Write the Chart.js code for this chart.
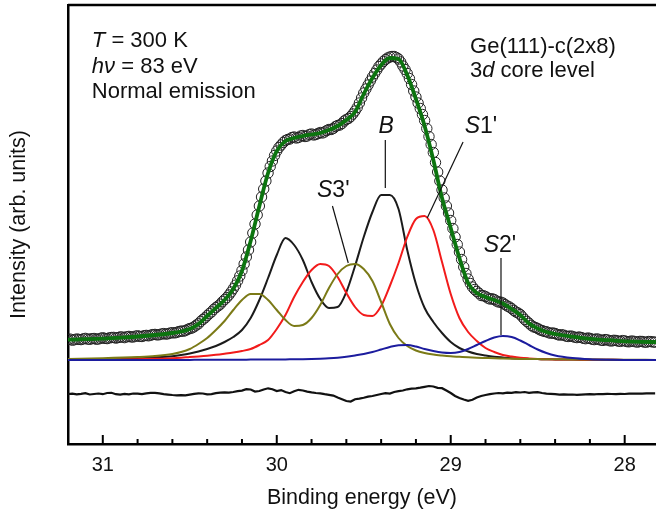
<!DOCTYPE html>
<html>
<head>
<meta charset="utf-8">
<script src="https://cdn.jsdelivr.net/npm/chart.js@4.4.0/dist/chart.umd.min.js"></script>
<style>
  html, body { margin: 0; padding: 0; background: #fff; }
</style>
</head>
<body>
<canvas id="ge3d" width="656" height="514"></canvas>
<script>
// measured spectrum (open circles), binding energy in eV
var dataEnergy = [
  31.2000, 31.1875, 31.1750, 31.1625, 31.1500, 31.1375, 31.1250, 31.1125, 31.1000, 31.0875,
  31.0750, 31.0625, 31.0500, 31.0375, 31.0250, 31.0125, 31.0000, 30.9875, 30.9750, 30.9625,
  30.9500, 30.9375, 30.9250, 30.9125, 30.9000, 30.8875, 30.8750, 30.8625, 30.8500, 30.8375,
  30.8250, 30.8125, 30.8000, 30.7875, 30.7750, 30.7625, 30.7500, 30.7375, 30.7250, 30.7125,
  30.7000, 30.6875, 30.6750, 30.6625, 30.6500, 30.6375, 30.6250, 30.6125, 30.6000, 30.5875,
  30.5750, 30.5625, 30.5500, 30.5375, 30.5250, 30.5125, 30.5000, 30.4875, 30.4750, 30.4625,
  30.4500, 30.4375, 30.4250, 30.4125, 30.4000, 30.3875, 30.3750, 30.3625, 30.3500, 30.3375,
  30.3250, 30.3125, 30.3000, 30.2875, 30.2750, 30.2625, 30.2500, 30.2375, 30.2250, 30.2125,
  30.2000, 30.1875, 30.1750, 30.1625, 30.1500, 30.1375, 30.1250, 30.1125, 30.1000, 30.0875,
  30.0750, 30.0625, 30.0500, 30.0375, 30.0250, 30.0125, 30.0000, 29.9875, 29.9750, 29.9625,
  29.9500, 29.9375, 29.9250, 29.9125, 29.9000, 29.8875, 29.8750, 29.8625, 29.8500, 29.8375,
  29.8250, 29.8125, 29.8000, 29.7875, 29.7750, 29.7625, 29.7500, 29.7375, 29.7250, 29.7125,
  29.7000, 29.6875, 29.6750, 29.6625, 29.6500, 29.6375, 29.6250, 29.6125, 29.6000, 29.5875,
  29.5750, 29.5625, 29.5500, 29.5375, 29.5250, 29.5125, 29.5000, 29.4875, 29.4750, 29.4625,
  29.4500, 29.4375, 29.4250, 29.4125, 29.4000, 29.3875, 29.3750, 29.3625, 29.3500, 29.3375,
  29.3250, 29.3125, 29.3000, 29.2875, 29.2750, 29.2625, 29.2500, 29.2375, 29.2250, 29.2125,
  29.2000, 29.1875, 29.1750, 29.1625, 29.1500, 29.1375, 29.1250, 29.1125, 29.1000, 29.0875,
  29.0750, 29.0625, 29.0500, 29.0375, 29.0250, 29.0125, 29.0000, 28.9875, 28.9750, 28.9625,
  28.9500, 28.9375, 28.9250, 28.9125, 28.9000, 28.8875, 28.8750, 28.8625, 28.8500, 28.8375,
  28.8250, 28.8125, 28.8000, 28.7875, 28.7750, 28.7625, 28.7500, 28.7375, 28.7250, 28.7125,
  28.7000, 28.6875, 28.6750, 28.6625, 28.6500, 28.6375, 28.6250, 28.6125, 28.6000, 28.5875,
  28.5750, 28.5625, 28.5500, 28.5375, 28.5250, 28.5125, 28.5000, 28.4875, 28.4750, 28.4625,
  28.4500, 28.4375, 28.4250, 28.4125, 28.4000, 28.3875, 28.3750, 28.3625, 28.3500, 28.3375,
  28.3250, 28.3125, 28.3000, 28.2875, 28.2750, 28.2625, 28.2500, 28.2375, 28.2250, 28.2125,
  28.2000, 28.1875, 28.1750, 28.1625, 28.1500, 28.1375, 28.1250, 28.1125, 28.1000, 28.0875,
  28.0750, 28.0625, 28.0500, 28.0375, 28.0250, 28.0125, 28.0000, 27.9875, 27.9750, 27.9625,
  27.9500, 27.9375, 27.9250, 27.9125, 27.9000, 27.8875, 27.8750, 27.8625, 27.8500, 27.8375,
  27.8250
];
var dataIntensity = [
  20.5, 20.9, 19.8, 20.3, 21.0, 20.6, 20.4, 21.1, 21.6, 20.9,
  20.7, 21.3, 21.5, 20.8, 21.0, 21.7, 22.2, 21.6, 21.4, 22.1,
  22.5, 22.6, 21.9, 22.4, 23.1, 22.9, 22.4, 23.2, 23.6, 23.1,
  23.0, 23.8, 24.2, 23.6, 23.5, 24.3, 24.6, 24.2, 24.8, 25.4,
  25.6, 25.1, 25.3, 26.0, 26.4, 25.9, 26.2, 27.0, 27.3, 27.1,
  27.6, 28.4, 28.9, 28.8, 29.4, 30.6, 31.4, 32.0, 33.2, 34.9,
  36.2, 38.6, 40.5, 42.1, 44.3, 46.4, 48.1, 50.6, 52.4, 54.0,
  55.8, 58.3, 60.4, 62.4, 65.0, 68.0, 71.3, 74.8, 79.2, 84.0,
  89.5, 96, 103, 110, 118, 127, 136, 145, 154, 163,
  171, 179, 187, 193.5, 199, 204.5, 209, 212.5, 215, 217.5,
  219.5, 220.5, 221, 222.5, 223, 222, 222.5, 224, 224.5, 223.5,
  224, 225.5, 226, 225, 225.5, 226.5, 227.5, 227, 228, 229.5,
  230.5, 230.5, 231.5, 233.5, 234.5, 235, 236.5, 239, 240.5, 241.5,
  243.5, 246, 249, 252.5, 257, 262, 267, 271, 275, 279,
  283, 286.5, 290, 293.5, 296, 298.5, 300.5, 302, 303, 303.5,
  303.5, 302.5, 301, 298, 294, 290.5, 286.5, 281.5, 275.5, 269,
  263, 257, 251.5, 245.5, 239.5, 231.5, 223.5, 215.5, 207.5, 197.5,
  188, 179, 170, 162, 154, 147, 139.5, 131.5, 123, 115.5,
  108, 100.5, 93, 86.5, 81, 76.5, 73, 70.5, 68.5, 66.8,
  64.5, 64.3, 63.5, 62, 61, 61.2, 60.5, 59, 58, 57.8,
  57, 55.4, 54, 53, 51.5, 49.6, 48, 47, 45.5, 43,
  40.5, 38.6, 36.8, 34.7, 33.2, 32.5, 31.5, 30.2, 29.4, 28.6,
  28.3, 27.3, 26.8, 27.0, 26.5, 25.5, 24.9, 25.3, 24.8, 23.9,
  23.5, 24.0, 23.6, 22.8, 22.4, 23.0, 22.5, 21.7, 21.3, 22.0,
  21.6, 20.8, 20.4, 21.1, 20.7, 19.9, 19.6, 20.4, 20.1, 19.3,
  19.0, 19.7, 19.5, 18.9, 18.6, 19.4, 19.1, 18.4, 18.2, 18.9,
  18.8, 18.2, 17.9, 18.6, 18.5, 17.9, 17.8, 18.5, 18.4, 18.0,
  17.9
];

// fit residual, drawn offset below the baseline
var residEnergy = [
  31.200, 31.175, 31.150, 31.125, 31.100, 31.075, 31.050, 31.025, 31.000, 30.975,
  30.950, 30.925, 30.900, 30.875, 30.850, 30.825, 30.800, 30.775, 30.750, 30.725,
  30.700, 30.675, 30.650, 30.625, 30.600, 30.575, 30.550, 30.525, 30.500, 30.475,
  30.450, 30.425, 30.400, 30.375, 30.350, 30.325, 30.300, 30.275, 30.250, 30.225,
  30.200, 30.175, 30.150, 30.125, 30.100, 30.075, 30.050, 30.025, 30.000, 29.975,
  29.950, 29.925, 29.900, 29.875, 29.850, 29.825, 29.800, 29.775, 29.750, 29.725,
  29.700, 29.675, 29.650, 29.625, 29.600, 29.575, 29.550, 29.525, 29.500, 29.475,
  29.450, 29.425, 29.400, 29.375, 29.350, 29.325, 29.300, 29.275, 29.250, 29.225,
  29.200, 29.175, 29.150, 29.125, 29.100, 29.075, 29.050, 29.025, 29.000, 28.975,
  28.950, 28.925, 28.900, 28.875, 28.850, 28.825, 28.800, 28.775, 28.750, 28.725,
  28.700, 28.675, 28.650, 28.625, 28.600, 28.575, 28.550, 28.525, 28.500, 28.475,
  28.450, 28.425, 28.400, 28.375, 28.350, 28.325, 28.300, 28.275, 28.250, 28.225,
  28.200, 28.175, 28.150, 28.125, 28.100, 28.075, 28.050, 28.025, 28.000, 27.975,
  27.950, 27.925, 27.900, 27.875, 27.850, 27.825
];
var residual = [
  -34.0, -33.6, -34.3, -33.8, -33.2, -34.5, -34.0, -33.5, -34.2, -33.0,
  -32.8, -34.2, -34.6, -33.9, -34.3, -33.5, -33.7, -34.2, -33.4, -32.9,
  -32.8, -33.4, -34.2, -34.6, -35.0, -35.3, -35.1, -35.4, -34.6, -33.8,
  -33.3, -33.5, -34.3, -34.1, -33.2, -32.7, -32.4, -32.6, -32.0, -31.2,
  -30.6, -29.2, -29.5, -31.5, -31.0, -29.5, -28.3, -29.2, -31.0, -30.1,
  -32.0, -33.2, -31.3, -29.8, -30.5, -31.6, -32.4, -33.0, -33.4, -34.2,
  -34.8, -35.6, -37.5, -39.2, -41.0, -41.5, -39.2, -38.6, -37.8, -36.6,
  -36.0, -35.0, -34.0, -33.2, -33.6, -32.0, -31.2, -30.5, -29.3, -28.6,
  -28.3, -27.6, -26.8, -26.0, -26.5, -27.8, -28.2, -30.5, -33.0, -36.0,
  -38.0, -39.5, -40.8, -39.8, -37.5, -36.0, -35.0, -34.2, -33.5, -33.0,
  -33.4, -32.6, -32.9, -32.2, -32.5, -32.0, -32.8, -32.4, -32.2, -33.0,
  -33.6, -33.9, -34.2, -34.6, -34.4, -34.7, -34.5, -34.8, -34.6, -34.4,
  -34.2, -34.3, -34.0, -34.1, -33.9, -34.0, -34.1, -33.8, -34.0, -33.7,
  -33.6, -33.5, -33.6, -33.4, -33.3, -33.3
];

// total fit (green)
var fitEnergy = [
  31.2, 31.1, 31.0, 30.9, 30.8, 30.7, 30.6, 30.55, 30.5, 30.45,
  30.4, 30.35, 30.3, 30.25, 30.2, 30.15, 30.1, 30.05, 30.0, 29.95,
  29.9, 29.85, 29.8, 29.75, 29.7, 29.65, 29.6, 29.55, 29.5, 29.45,
  29.4, 29.35, 29.3, 29.25, 29.2, 29.15, 29.1, 29.05, 29.0, 28.95,
  28.9, 28.85, 28.8, 28.75, 28.7, 28.65, 28.6, 28.55, 28.5, 28.45,
  28.4, 28.3, 28.2, 28.1, 28.0, 27.9, 27.82
];
var fitIntensity = [
  20.3, 20.8, 21.4, 22.4, 23.5, 25, 27, 28.5, 31, 36,
  44, 52, 60, 71, 89, 119, 154, 187, 209, 219,
  222, 224, 225.5, 227, 230, 234, 240, 248, 266, 282,
  295, 302, 301, 285, 261, 234, 200, 162, 132, 102,
  77, 67, 63, 60, 56.5, 51, 45, 36.5, 31.5, 28,
  26, 23.3, 21.2, 19.8, 18.7, 18.1, 18
];

// fitted components (spin-orbit doublets)
var compEnergy = [
  31.2, 31.0, 30.8, 30.7, 30.6, 30.55, 30.5, 30.45, 30.4, 30.35,
  30.3, 30.25, 30.2, 30.15, 30.1, 30.05, 30.0, 29.95, 29.9, 29.85,
  29.8, 29.75, 29.7, 29.65, 29.6, 29.55, 29.5, 29.45, 29.4, 29.35,
  29.3, 29.25, 29.2, 29.15, 29.1, 29.05, 29.0, 28.95, 28.9, 28.85,
  28.8, 28.75, 28.7, 28.65, 28.6, 28.55, 28.5, 28.45, 28.4, 28.3,
  28.2, 28.1, 28.0, 27.82
];
var compB = [
  0.4, 0.8, 1.6, 2.5, 3.8, 5, 6.5, 8.5, 11, 14,
  18, 23, 30, 42, 60, 82, 105, 122, 115, 100,
  78, 61, 52, 53, 68, 94, 123, 148, 165, 165,
  151, 110, 76, 52, 38, 27, 18, 12, 8.5, 6,
  4.5, 3.3, 2.5, 1.8, 1.4, 1.1, 0.9, 0.7, 0.6, 0.4,
  0.3, 0.2, 0.1, 0
];
var compS1 = [
  0.2, 0.4, 0.8, 1.2, 1.8, 2.3, 3, 3.6, 4.3, 5.2,
  6.3, 7.5, 9, 11, 15, 20, 31, 45, 63, 78,
  90, 96, 94, 83, 67, 53, 45, 44, 54, 74,
  97, 123, 141, 144, 130, 98, 66, 42, 28, 19,
  12, 8, 5, 3.5, 2.3, 1.6, 1.1, 0.8, 0.6, 0.4,
  0.3, 0.2, 0.1, 0
];
var compS3 = [
  1, 1.8, 3, 4, 6, 8, 11, 16, 22, 30,
  39, 50, 60, 66, 66, 60, 50, 40, 34, 35,
  42, 55, 72, 86, 94, 96, 91, 79, 58, 36,
  22, 14, 9.5, 7, 5.5, 4.5, 3.7, 3.2, 2.7, 2.3,
  2, 1.7, 1.5, 1.3, 1.1, 1, 0.9, 0.8, 0.7, 0.5,
  0.4, 0.3, 0.2, 0.1
];
var compS2 = [
  0, 0, 0, 0, 0.1, 0.1, 0.1, 0.2, 0.2, 0.2,
  0.3, 0.3, 0.3, 0.4, 0.4, 0.5, 0.5, 0.6, 0.7, 0.8,
  1, 1.3, 1.7, 2.3, 3.2, 4.5, 6, 8, 10.5, 13,
  14.8, 15, 13.5, 11, 9, 7.5, 7, 8, 11, 15,
  19, 22.5, 24, 23, 19.5, 15, 10.5, 7, 4.5, 2,
  0.8, 0.3, 0.1, 0
];

var xTickLabels = ['31', '30', '29', '28'];

// text on the plot, positioned in data units (energy, intensity)
var peakLabels = [
  { parts: [['B', true]], at: [29.371, 227], line: [[29.376, 220], [29.376, 172]] },
  { parts: [['S', true], ["1'", false]], at: [28.826, 227], line: [[28.929, 218], [29.135, 142]] },
  { parts: [['S', true], ["3'", false]], at: [29.675, 163], line: [[29.680, 154], [29.589, 97]] },
  { parts: [['S', true], ["2'", false]], at: [28.717, 108], line: [[28.711, 102], [28.711, 25]] }
];
var infoText = [
  { parts: [['T', true], [' = 300 K', false]], at: [31.063, 313] },
  { parts: [['h\u03bd', true], [' = 83 eV', false]], at: [31.063, 287] },
  { parts: [['Normal emission', false]], at: [31.063, 262] },
  { parts: [['Ge(111)-c(2x8)', false]], at: [28.889, 307] },
  { parts: [['3', false], ['d', true], [' core level', false]], at: [28.889, 283] }
];

var FONT = '"Liberation Sans", Arial, sans-serif';
Chart.defaults.font.family = FONT;
Chart.defaults.color = '#111';

function pairs(xs, ys) {
  return xs.map(function(x, i) { return { x: x, y: ys[i] }; });
}

function drawRich(ctx, parts, x, y, size, centered) {
  var w = 0;
  parts.forEach(function(p) {
    ctx.font = (p[1] ? 'italic ' : '') + size + 'px ' + FONT;
    w += ctx.measureText(p[0]).width;
  });
  var cx = centered ? x - w / 2 : x;
  parts.forEach(function(p) {
    ctx.font = (p[1] ? 'italic ' : '') + size + 'px ' + FONT;
    ctx.fillText(p[0], cx, y);
    cx += ctx.measureText(p[0]).width;
  });
}

var frameAndNotes = {
  id: 'frameAndNotes',
  afterDatasetsDraw: function(chart) {
    var ctx = chart.ctx, area = chart.chartArea;
    var xs = chart.scales.x, ys = chart.scales.y;
    ctx.save();
    ctx.strokeStyle = '#000';
    ctx.lineWidth = 2.5;
    ctx.beginPath();
    ctx.moveTo(area.left, area.top);
    ctx.lineTo(area.right, area.top);
    ctx.stroke();

    // inward tick marks
    ctx.lineWidth = 2;
    xs.ticks.forEach(function(t) {
      var k = Math.round(t.value * 5);
      if (Math.abs(t.value * 5 - k) > 1e-6) return;
      var px = xs.getPixelForValue(t.value);
      var len = (k % 5 === 0) ? 9 : 5;
      ctx.beginPath();
      ctx.moveTo(px, area.bottom);
      ctx.lineTo(px, area.bottom - len);
      ctx.stroke();
    });

    ctx.fillStyle = '#111';
    ctx.textBaseline = 'alphabetic';
    ctx.lineWidth = 1.2;
    ctx.strokeStyle = '#111';
    peakLabels.forEach(function(p) {
      ctx.beginPath();
      ctx.moveTo(xs.getPixelForValue(p.line[0][0]), ys.getPixelForValue(p.line[0][1]));
      ctx.lineTo(xs.getPixelForValue(p.line[1][0]), ys.getPixelForValue(p.line[1][1]));
      ctx.stroke();
      drawRich(ctx, p.parts, xs.getPixelForValue(p.at[0]), ys.getPixelForValue(p.at[1]), 23, true);
    });
    infoText.forEach(function(p) {
      drawRich(ctx, p.parts, xs.getPixelForValue(p.at[0]), ys.getPixelForValue(p.at[1]), 22, false);
    });
    ctx.restore();
  }
};

function lineSet(label, xs, ys, color, width, order) {
  return {
    label: label,
    data: pairs(xs, ys),
    borderColor: color,
    borderWidth: width,
    pointRadius: 0,
    cubicInterpolationMode: 'monotone',
    fill: false,
    order: order
  };
}

new Chart(document.getElementById('ge3d'), {
  type: 'line',
  data: {
    datasets: [
      lineSet('Fit', fitEnergy, fitIntensity, '#0c740f', 3.8, 0),
      {
        label: 'Data',
        data: pairs(dataEnergy, dataIntensity),
        showLine: false,
        pointRadius: 5.2,
        pointBorderWidth: 1,
        pointBorderColor: '#222',
        pointBackgroundColor: 'rgba(255,255,255,0)',
        order: 1
      },
      {
        label: 'Residual',
        data: pairs(residEnergy, residual),
        borderColor: '#111',
        borderWidth: 2.2,
        pointRadius: 0,
        tension: 0,
        order: 2
      },
      lineSet('S2\'', compEnergy, compS2, '#1c1c9e', 2, 3),
      lineSet('S3\'', compEnergy, compS3, '#7b7a17', 2, 4),
      lineSet('S1\'', compEnergy, compS1, '#f21b1b', 2, 5),
      lineSet('B', compEnergy, compB, '#1b1b1b', 2, 6)
    ]
  },
  options: {
    responsive: false,
    animation: false,
    events: [],
    layout: { autoPadding: false, padding: { top: 5, right: 0, bottom: 0, left: 0 } },
    plugins: { legend: { display: false }, tooltip: { enabled: false } },
    scales: {
      x: {
        type: 'linear',
        reverse: true,
        min: 27.82,
        max: 31.2,
        grid: { display: false, drawTicks: false },
        border: { display: true, color: '#000', width: 2.5 },
        ticks: {
          stepSize: 0.2,
          includeBounds: false,
          autoSkip: false,
          maxRotation: 0,
          padding: 9,
          color: '#111',
          font: { size: 20 },
          callback: function(v) {
            var r = Math.round(v);
            if (Math.abs(v - r) > 1e-6) return '';
            var s = String(r);
            return xTickLabels.indexOf(s) >= 0 ? s : '';
          }
        },
        title: {
          display: true,
          text: 'Binding energy (eV)',
          color: '#111',
          font: { size: 21.5 },
          padding: { top: 0, bottom: 3 }
        },
        afterFit: function(s) { s.height = 70; }
      },
      y: {
        type: 'linear',
        min: -84,
        max: 355,
        grid: { display: false, drawTicks: false },
        border: { display: true, color: '#000', width: 2.5 },
        ticks: { display: false },
        title: {
          display: true,
          text: 'Intensity (arb. units)',
          color: '#111',
          font: { size: 21.5 },
          padding: { top: 6, bottom: 0 }
        },
        afterFit: function(s) { s.width = 68; }
      }
    }
  },
  plugins: [frameAndNotes]
});
</script>
</body>
</html>
